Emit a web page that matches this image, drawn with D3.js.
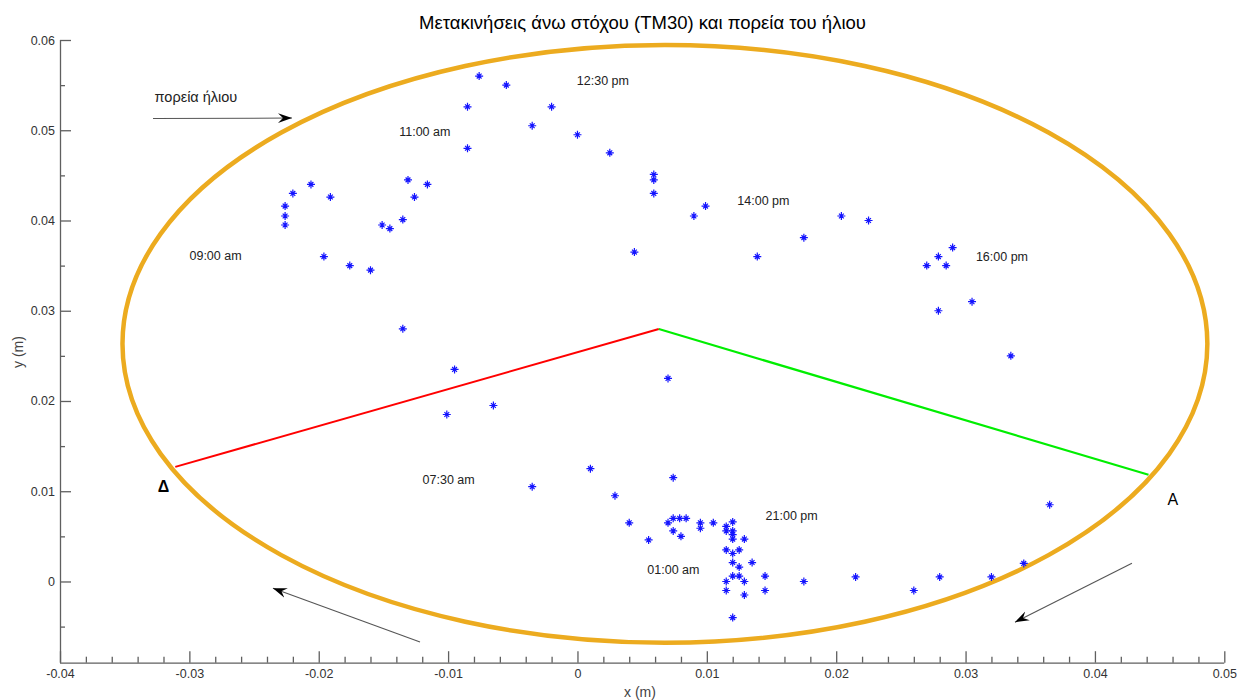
<!DOCTYPE html>
<html>
<head>
<meta charset="utf-8">
<script src="https://cdn.jsdelivr.net/npm/d3@7"></script>
<style>
  body { margin: 0; background: #fff; }
  svg { display: block; font-family: Arial, "Liberation Sans", sans-serif; }
</style>
</head>
<body>
<svg id="chart" width="1238" height="700"></svg>
<script>
// ---------- data ----------
const title = "Μετακινήσεις άνω στόχου (TM30) και πορεία του ήλιου";
const xLabel = "x (m)";
const yLabel = "y (m)";

const xTicks = [-0.04, -0.03, -0.02, -0.01, 0, 0.01, 0.02, 0.03, 0.04, 0.05];
const xTickLabels = ["-0.04", "-0.03", "-0.02", "-0.01", "0", "0.01", "0.02", "0.03", "0.04", "0.05"];
const xMinorTicks = [-0.038,-0.036,-0.034,-0.032,-0.028,-0.026,-0.024,-0.022,-0.018,-0.016,-0.014,-0.012,
  -0.008,-0.006,-0.004,-0.002,0.002,0.004,0.006,0.008,0.012,0.014,0.016,0.018,0.022,0.024,0.026,0.028,
  0.032,0.034,0.036,0.038,0.042,0.044,0.046,0.048];
const yTicks = [0, 0.01, 0.02, 0.03, 0.04, 0.05, 0.06];
const yTickLabels = ["0", "0.01", "0.02", "0.03", "0.04", "0.05", "0.06"];
const yMinorTicks = [-0.005, 0.005, 0.015, 0.025, 0.035, 0.045, 0.055];

// target displacement points (x, y in m)
const pointsX = [
  -0.0226,-0.0226,-0.0226,-0.0220,-0.0206,-0.0191,-0.0151,-0.0145,-0.0135,-0.0131,-0.0126,-0.0116,
  -0.0196,-0.0176,-0.0160,-0.0135,-0.0076,-0.0055,-0.0085,-0.0020,-0.0035,0.0000,0.0025,-0.0085,
  0.0059,0.0059,0.0059,0.0090,0.0099,0.0175,0.0204,0.0225,0.0044,0.0139,0.0290,0.0279,0.0270,0.0285,
  0.0305,0.0279,0.0335,-0.0095,-0.0101,-0.0065,0.0070,
  0.0010,0.0074,-0.0035,0.0029,0.0040,0.0055,0.0070,0.0074,0.0079,0.0084,0.0074,0.0080,0.0095,0.0095,
  0.0105,0.0115,0.0115,0.0120,0.0120,0.0120,0.0120,0.0129,0.0115,0.0125,0.0120,0.0120,0.0135,0.0125,
  0.0120,0.0125,0.0115,0.0129,0.0115,0.0129,0.0145,0.0145,0.0120,0.0175,0.0215,0.0260,0.0280,0.0320,
  0.0345,0.0365
];
const pointsY = [
  0.0416,0.0405,0.0395,0.0430,0.0440,0.0426,0.0395,0.0391,0.0401,0.0445,0.0426,0.0440,
  0.0360,0.0350,0.0345,0.0280,0.0560,0.0550,0.0526,0.0526,0.0505,0.0495,0.0475,0.0480,
  0.0451,0.0445,0.0430,0.0405,0.0416,0.0381,0.0405,0.0400,0.0365,0.0360,0.0370,0.0360,0.0350,0.0350,
  0.0310,0.0300,0.0250,0.0235,0.0185,0.0195,0.0225,
  0.0125,0.0115,0.0105,0.0095,0.0065,0.0046,0.0065,0.0070,0.0070,0.0070,0.0056,0.0050,0.0065,0.0059,
  0.0065,0.0061,0.0056,0.0066,0.0056,0.0052,0.0047,0.0047,0.0035,0.0035,0.0031,0.0021,0.0021,0.0016,
  0.0006,0.0006,0.0000,0.0000,-0.0010,-0.0015,0.0006,-0.0010,-0.0040,0.0000,0.0005,-0.0010,0.0005,0.0005,
  0.0020,0.0085
];

// sun path ellipse (centre and semi-axes, m)
const ellipseCenter = [0.00676, 0.02633];
const ellipseRadii = [0.04193, 0.03311];

// reference lines Δ–apex (red) and apex–A (green)
const redLineX = [-0.03109, 0.00629];
const redLineY = [0.0127, 0.02797];
const greenLineX = [0.00629, 0.04414];
const greenLineY = [0.02797, 0.01182];

// time labels
const timeLabels = ["12:30 pm", "11:00 am", "14:00 pm", "09:00 am", "16:00 pm", "07:30 am", "21:00 pm", "01:00 am"];
const timeLabelX = [-0.00005, -0.01378, 0.01236, -0.02999, 0.03080, -0.01197, 0.01454, 0.00540];
const timeLabelY = [0.05555, 0.04985, 0.04215, 0.03610, 0.03599, 0.01131, 0.00728, 0.00135];

// direction arrows [x1, y1, x2, y2]
const arrowTop = [-0.03281, 0.0513, -0.02207, 0.05135];
const arrowBottomLeft = [-0.01217, -0.0067, -0.02354, -0.00074];
const arrowBottomRight = [0.04286, 0.00203, 0.03382, -0.00451];
const sunPathLabel = "πορεία ήλιου";
const sunPathLabelPos = [-0.03269, 0.05372];

// point names
const pointNames = ["Δ", "A"];
const pointNameX = [-0.0320, 0.04603];
const pointNameY = [0.01055, 0.00910];

// ---------- drawing ----------
const svg = d3.select("#chart");
const x = d3.scaleLinear().domain([-0.04, 0.05]).range([60, 1224.3]);
const y = d3.scaleLinear().domain([-0.009, 0.06]).range([662.7, 40]);

const axisColor = "#5f5f5f";
const labelColor = "#333";

// title
svg.append("text").attr("x", 642.5).attr("y", 29).attr("text-anchor", "middle")
  .attr("font-size", 18.5).attr("fill", "#000").text(title);

// axes
const gx = svg.append("g").attr("transform", `translate(0,${y.range()[0]})`);
gx.call(d3.axisBottom(x).tickValues(xTicks).tickSize(-11.5).tickSizeOuter(0).tickPadding(6)
  .tickFormat((d, i) => xTickLabels[i]));
const gxm = svg.append("g").attr("transform", `translate(0,${y.range()[0]})`);
gxm.call(d3.axisBottom(x).tickValues(xMinorTicks).tickSize(-6).tickSizeOuter(0).tickFormat(""));
gxm.select(".domain").remove();

const gy = svg.append("g").attr("transform", `translate(${x.range()[0]},0)`);
gy.call(d3.axisLeft(y).tickValues(yTicks).tickSize(-11).tickSizeOuter(0).tickPadding(5)
  .tickFormat((d, i) => yTickLabels[i]));
const gym = svg.append("g").attr("transform", `translate(${x.range()[0]},0)`);
gym.call(d3.axisLeft(y).tickValues(yMinorTicks).tickSize(-5).tickSizeOuter(0).tickFormat(""));
gym.select(".domain").remove();

gy.select(".domain").attr("d", `M0.5,${y.range()[1]}V${y.range()[0]}`);
gx.select(".domain").attr("d", `M${x.range()[0]},0.5H${x.range()[1]}`);

svg.selectAll(".domain, .tick line").attr("stroke", axisColor).attr("stroke-width", 1.3);
svg.selectAll(".tick text").attr("fill", labelColor).attr("font-size", 12.5)
  .attr("font-family", "Arial, 'Liberation Sans', sans-serif");

// axis titles
svg.append("text").attr("x", 640).attr("y", 697).attr("text-anchor", "middle")
  .attr("font-size", 14).attr("fill", "#444").text(xLabel);
svg.append("text").attr("transform", "translate(23,352) rotate(-90)").attr("text-anchor", "middle")
  .attr("font-size", 14).attr("fill", "#444").text(yLabel);

// ellipse
svg.append("ellipse")
  .attr("cx", x(ellipseCenter[0])).attr("cy", y(ellipseCenter[1]))
  .attr("rx", x(ellipseCenter[0] + ellipseRadii[0]) - x(ellipseCenter[0]))
  .attr("ry", y(ellipseCenter[1]) - y(ellipseCenter[1] + ellipseRadii[1]))
  .attr("fill", "none").attr("stroke", "#ecab1f").attr("stroke-width", 4.5);

// red and green lines
const line = d3.line().x(d => x(d[0])).y(d => y(d[1]));
svg.append("path").attr("d", line(d3.zip(redLineX, redLineY)))
  .attr("stroke", "#ff0000").attr("stroke-width", 2).attr("fill", "none");
svg.append("path").attr("d", line(d3.zip(greenLineX, greenLineY)))
  .attr("stroke", "#00ee00").attr("stroke-width", 2.2).attr("fill", "none");

// points
const star = "M-4,0H4M0,-4V4M-2.4,-2.4L2.4,2.4M-2.4,2.4L2.4,-2.4";
svg.append("g").selectAll("path").data(d3.zip(pointsX, pointsY)).join("path")
  .attr("transform", d => `translate(${x(d[0])},${y(d[1])})`)
  .attr("d", star).attr("stroke", "#1414ff").attr("stroke-width", 1.2).attr("fill", "none");

// time labels
svg.append("g").selectAll("text").data(timeLabels).join("text")
  .attr("x", (d, i) => x(timeLabelX[i])).attr("y", (d, i) => y(timeLabelY[i]))
  .attr("dy", "0.35em").attr("font-size", 12.5).attr("fill", "#222").text(d => d);

// arrow marker
const defs = svg.append("defs");
defs.append("marker").attr("id", "ah").attr("markerUnits", "userSpaceOnUse")
  .attr("viewBox", "-14 -6 16 12").attr("refX", 0).attr("refY", 0)
  .attr("markerWidth", 16).attr("markerHeight", 12).attr("orient", "auto")
  .append("path").attr("d", "M0,0L-14,-5L-9,0L-14,5Z").attr("fill", "#000");

[arrowTop, arrowBottomLeft, arrowBottomRight].forEach(a => {
  svg.append("line").attr("x1", x(a[0])).attr("y1", y(a[1])).attr("x2", x(a[2])).attr("y2", y(a[3]))
    .attr("stroke", "#555").attr("stroke-width", 1.1).attr("marker-end", "url(#ah)");
});
svg.append("text").attr("x", x(sunPathLabelPos[0])).attr("y", y(sunPathLabelPos[1]))
  .attr("dy", "0.35em").attr("font-size", 14.5).attr("fill", "#222").text(sunPathLabel);

// point names
svg.append("g").selectAll("text").data(pointNames).join("text")
  .attr("x", (d, i) => x(pointNameX[i])).attr("y", (d, i) => y(pointNameY[i]))
  .attr("dy", "0.35em").attr("text-anchor", "middle").attr("font-size", 16)
  .attr("font-weight", (d, i) => i === 0 ? "bold" : "normal").attr("fill", "#000").text(d => d);
</script>
</body>
</html>
